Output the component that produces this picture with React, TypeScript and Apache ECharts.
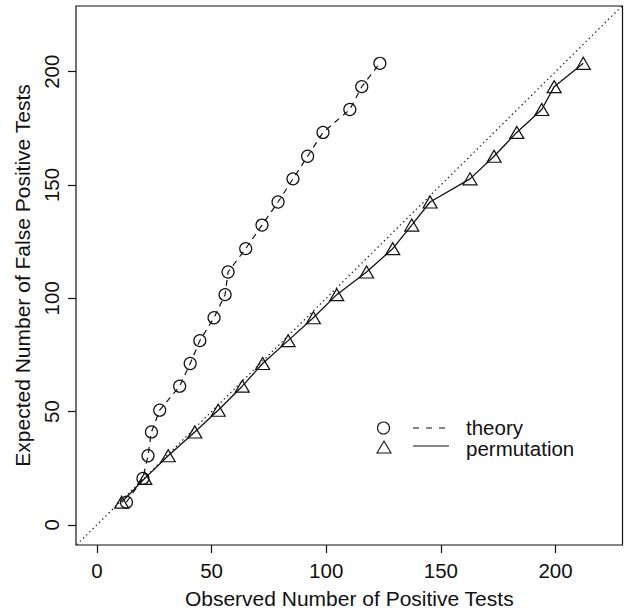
import React, { useEffect, useRef } from "react";
import * as echarts from "echarts";

// Observed number of positive tests (x)
const theoryObserved = [12.9, 20.1, 22.3, 23.8, 27.4, 36.1, 40.7, 44.9, 51.1, 55.9, 57.2, 64.9, 72.0, 79.0, 85.5, 91.9, 98.6, 110.3, 115.5, 123.4];
const permutationObserved = [10.8, 20.9, 31.1, 42.7, 52.9, 63.4, 72.3, 83.4, 94.4, 104.6, 117.6, 129.0, 137.3, 145.3, 162.7, 173.2, 183.1, 194.0, 199.4, 212.1];
// Expected number of false positive tests (y)
const expectedFalsePositives = [10.0, 20.5, 30.5, 41.0, 50.6, 61.2, 71.2, 81.3, 91.4, 101.6, 111.6, 121.9, 132.3, 142.5, 152.7, 162.7, 173.2, 183.3, 193.4, 203.7];
// Identity reference line end points
const identityLine = [-20, 240];
const tickValues = [0, 50, 100, 150, 200];
const seriesNames = ["theory", "permutation"];

const FONT = "'Liberation Sans', Arial, Helvetica, sans-serif";
const INK = "#111";

export default function App() {
  const ref = useRef<HTMLDivElement>(null);
  useEffect(() => {
    if (!ref.current) return;
    const chart = echarts.init(ref.current, undefined, { renderer: "svg" });
    const axisCommon = {
      type: "value" as const,
      nameLocation: "middle" as const,
      nameTextStyle: { fontFamily: FONT, fontSize: 21, color: INK },
      axisLine: { show: false, onZero: false },
      axisTick: { show: true, length: 8, inside: false, customValues: tickValues, lineStyle: { color: INK, width: 1.2 } },
      splitLine: { show: false },
    };
    chart.setOption({
      animation: false,
      backgroundColor: "#fff",
      grid: { left: 76, top: 6, right: 1.5, bottom: 67, show: true, borderColor: INK, borderWidth: 1.2, containLabel: false },
      xAxis: {
        ...axisCommon,
        min: -9.1,
        max: 229.2,
        name: "Observed Number of Positive Tests",
        nameGap: 43,
        axisLabel: { customValues: tickValues, margin: 15, fontFamily: FONT, fontSize: 20.5, color: INK, hideOverlap: false },
      },
      yAxis: {
        ...axisCommon,
        min: -8.9,
        max: 229,
        name: "Expected Number of False Positive Tests",
        nameGap: 41,
        axisLabel: { customValues: tickValues, rotate: 90, margin: 14, fontFamily: FONT, fontSize: 20.5, color: INK, hideOverlap: false },
      },
      series: [
        {
          type: "line",
          data: identityLine.map((v) => [v, v]),
          symbol: "none",
          silent: true,
          z: 1,
          lineStyle: { color: "#222", width: 1.2, type: [1.5, 3] },
        },
        {
          name: seriesNames[0],
          type: "line",
          data: theoryObserved.map((x, i) => [x, expectedFalsePositives[i]]),
          symbol: "circle",
          symbolSize: 12,
          z: 3,
          lineStyle: { color: INK, width: 1.2, type: [6, 5] },
          itemStyle: { color: "none", borderColor: INK, borderWidth: 1.2 },
        },
        {
          name: seriesNames[1],
          type: "line",
          data: permutationObserved.map((x, i) => [x, expectedFalsePositives[i]]),
          symbol: "triangle",
          symbolSize: [14, 12],
          z: 3,
          lineStyle: { color: INK, width: 1.3 },
          itemStyle: { color: "none", borderColor: INK, borderWidth: 1.2 },
        },
      ],
      graphic: [
        { type: "circle", shape: { cx: 383.5, cy: 428, r: 6 }, style: { fill: "none", stroke: INK, lineWidth: 1.1 } },
        { type: "line", shape: { x1: 413, y1: 428, x2: 446, y2: 428 }, style: { stroke: INK, lineWidth: 1.1, lineDash: [6, 7] } },
        { type: "text", x: 466, y: 427, style: { text: seriesNames[0], fontFamily: FONT, fontSize: 20.5, lineHeight: 16, fill: INK, verticalAlign: "middle", align: "left" } },
        { type: "polygon", shape: { points: [[377, 453], [391, 453], [384, 441]] }, style: { fill: "none", stroke: INK, lineWidth: 1.1 } },
        { type: "line", shape: { x1: 413, y1: 446, x2: 449, y2: 446 }, style: { stroke: INK, lineWidth: 1.1 } },
        { type: "text", x: 466, y: 448, style: { text: seriesNames[1], fontFamily: FONT, fontSize: 20.5, lineHeight: 16, fill: INK, verticalAlign: "middle", align: "left" } },
      ],
    });
    return () => chart.dispose();
  }, []);
  return <div ref={ref} style={{ position: "fixed", left: 0, top: 0, width: 624, height: 614, background: "#fff" }} />;
}
